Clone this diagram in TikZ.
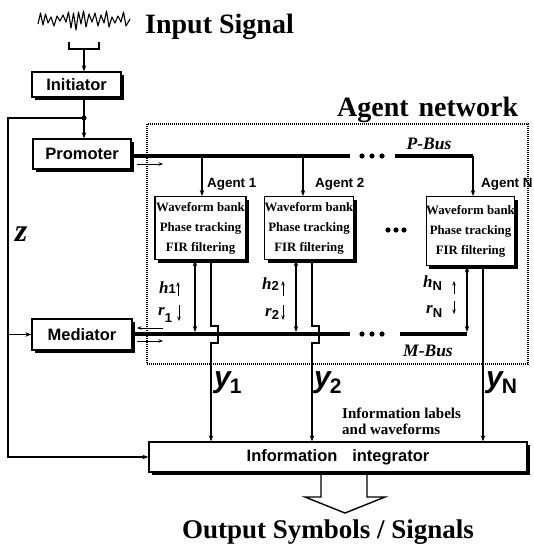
\documentclass[tikz,border=0pt]{standalone}
\usepackage{fontspec}
\setmainfont{Liberation Serif}
\setsansfont{Liberation Sans}
\usetikzlibrary{arrows.meta,shadows}
\begin{document}
\begin{tikzpicture}[x=1pt,y=-1pt,
  >={Stealth[length=6pt,width=4.5pt]},
  wire/.style={line width=1.1pt},
  smallarr/.style={line width=0.9pt,-{Stealth[length=4.5pt,width=3.5pt]}},
  bus/.style={line width=3.8pt},
  shbox/.style={draw,line width=1.3pt,fill=white,inner sep=0pt,
     drop shadow={shadow xshift=3pt,shadow yshift=-3pt,fill=black,opacity=1}},
  sanslbl/.style={font=\sffamily\bfseries\fontsize{16.5}{18}\selectfont},
  agentlbl/.style={font=\sffamily\bfseries\fontsize{13.4}{15}\selectfont},
  agenttxt/.style={font=\rmfamily\bfseries\fontsize{12.8}{20}\selectfont,align=center},
  bigtitle/.style={font=\rmfamily\bfseries\fontsize{28}{30}\selectfont,inner sep=0pt},
  buslbl/.style={font=\rmfamily\bfseries\itshape\fontsize{17.5}{18}\selectfont,inner sep=0pt},
  smalltxt/.style={font=\rmfamily\bfseries\fontsize{15}{15.5}\selectfont,align=left,inner sep=0pt},
  hrlbl/.style={inner sep=0pt,anchor=base west},
  ylbl/.style={inner sep=0pt,anchor=base west},
]
\newcommand{\hrf}{\rmfamily\bfseries\itshape\fontsize{17}{17}\selectfont}
\newcommand{\hrsub}{\sffamily\bfseries\upshape\fontsize{13}{13}\selectfont}
\newcommand{\yf}{\sffamily\bfseries\itshape\fontsize{30}{30}\selectfont}
\newcommand{\ysubf}{\sffamily\bfseries\upshape\fontsize{21}{21}\selectfont}
\useasboundingbox (0,0) rectangle (533,546);

% input waveform
\draw[line width=1.1pt,line join=round] plot coordinates {(38,24) (40.5,13) (43,25) (45.5,14) (48,23) (51,17) (54,26) (57,16) (60,21) (63,15) (66,22) (68.5,12) (71,28) (73.5,13) (76,30) (78.5,12) (81,24) (83.5,11) (86,27) (89,14) (92,22) (95,13) (98,26) (101,15) (104,23) (106.5,11) (109,27) (112,17) (115,23) (118,16) (121,22) (123.5,12) (126,26) (130,19)};
\node[bigtitle,anchor=base west] (title) at (145,33) {Input Signal};
\draw[wire] (69,42) -- (69,49) -- (99,49) -- (99,42);
\coordinate (br) at (84,49);

% boxes
\node[shbox,sanslbl,minimum width=89,minimum height=25] (init) at (76.5,84.5) {Initiator};
\node[shbox,sanslbl,minimum width=98,minimum height=30] (prom) at (82,154) {Promoter};
\node[shbox,sanslbl,minimum width=100,minimum height=31] (med) at (82,334.5) {Mediator};
\node[shbox,sanslbl,minimum width=378,minimum height=30] (integ) at (338,457) {Information\hspace{0.9em}integrator};

% agent network frame
\draw[line width=1.3pt,dash pattern=on 1pt off 1pt] (147,124) rectangle (528,364);
\node[bigtitle,anchor=base west] (nettitle) at (337,116) {Agent\hspace{0.35em}network};

\node[shbox,agenttxt,anchor=north,minimum width=91,minimum height=63] (a1) at (200.5,196) {Waveform bank\\Phase tracking\\FIR filtering};
\node[shbox,agenttxt,anchor=north,minimum width=89,minimum height=63] (a2) at (309,196) {Waveform bank\\Phase tracking\\FIR filtering};
\node[shbox,agenttxt,anchor=north,minimum width=88,minimum height=69] (aN) at (470.5,196) {Waveform bank\\Phase tracking\\FIR filtering};

% input chain
\coordinate (dot) at (84,118);
\draw[wire,->] (br) -- (br |- init.north);
\draw[wire,->] (br |- init.south) -- (br |- prom.north);
\fill (dot) circle (2.6);
\coordinate (L1) at (8,118);
\coordinate (L2) at (8,457);
\coordinate (Lm) at (8,334.5);
\draw[wire,->] (dot) -- (L1) -- (L2) -- (integ.west);
\draw[wire,->] (Lm) -- (med.west);
\node[inner sep=0pt,font=\rmfamily\bfseries\itshape\fontsize{32}{32}\selectfont] (z) at (21,234) {z};

% P-bus
\draw[bus] (131,156) -- (350,156);
\draw[bus] (395,156) -- (473,156);
\foreach \xx in {362,372,382} \fill (\xx,156) circle (2.6);
\node[buslbl,anchor=base] (pbus) at (429,149) {P-Bus};
\draw[wire,->] (202,156) -- (a1.north -| 202,0);
\draw[wire,->] (303,156) -- (a2.north -| 303,0);
\draw[wire,->] (473,156) -- (aN.north -| 473,0);
\node[agentlbl,anchor=west,inner sep=0pt] (ag1) at (207,184) {Agent 1};
\node[agentlbl,anchor=west,inner sep=0pt] (ag2) at (315,184) {Agent 2};
\node[agentlbl,anchor=west,inner sep=0pt] (agN) at (481,184) {Agent N};
\foreach \xx in {388,396,404} \fill (\xx,230) circle (2.6);

% M-bus
\draw[bus] (132,334) -- (350,334);
\draw[bus] (400,334) -- (467,334);
\foreach \xx in {362,372,382} \fill (\xx,334) circle (2.6);
\node[buslbl,anchor=base] (mbus) at (428,356) {M-Bus};

% border arrows
\draw[smallarr] (137,164) -- (163,164);
\draw[smallarr] (163,328) -- (137,328);
\draw[smallarr] (137,341) -- (163,341);

% h / r exchange
\draw[wire,<->] (a1.south -| 195,0) -- (195,332);
\draw[wire,<->] (a2.south -| 296,0) -- (296,332);
\draw[wire,<->] (aN.south -| 467,0) -- (467,332);
\node[hrlbl] (h1) at (159,293) {\hrf h\hrsub 1};
\node[hrlbl] (r1) at (158,315) {\hrf r\raisebox{-7pt}{\hrsub 1}};
\node[hrlbl] (h2) at (262,289) {\hrf h\raisebox{-1pt}{\hrsub 2}};
\node[hrlbl] (r2) at (265,316) {\hrf r\raisebox{-3pt}{\hrsub 2}};
\node[hrlbl] (hN) at (423,287) {\hrf h\raisebox{-3pt}{\hrsub N}};
\node[hrlbl] (rN) at (426,313) {\hrf r\raisebox{-4pt}{\hrsub N}};
\draw[smallarr] (178,296) -- (178,282);
\draw[smallarr] (179,305) -- (179,321);
\draw[smallarr] (283,296) -- (283,281);
\draw[smallarr] (283,305) -- (283,320);
\draw[smallarr] (454,294) -- (454,281);
\draw[smallarr] (454,301) -- (454,314);

% outputs y
\draw[wire,->] (a1.south -| 211,0) -- (211,326) -- (218,326) -- (218,343) -- (211,343) -- (integ.north -| 211,0);
\draw[wire,->] (a2.south -| 312,0) -- (312,326) -- (319,326) -- (319,343) -- (312,343) -- (integ.north -| 312,0);
\draw[wire,->] (aN.south -| 483,0) -- (integ.north -| 483,0);
\node[ylbl] (y1) at (214,387) {\yf y\kern-1pt\raisebox{-6pt}{\ysubf 1}};
\node[ylbl] (y2) at (314,387) {\yf y\kern-1pt\raisebox{-6pt}{\ysubf 2}};
\node[ylbl] (yN) at (486,387) {\yf y\kern-1pt\raisebox{-6pt}{\ysubf N}};
\node[smalltxt,anchor=north west] (info) at (342,408) {Information labels\\and waveforms};

% output arrow
\draw[line width=1.4pt,line join=miter] (321,475) -- (321,497) -- (305,497) -- (345,513) -- (385,497) -- (367,497) -- (367,475);
\node[font=\rmfamily\bfseries\fontsize{27}{29}\selectfont,inner sep=0pt,anchor=base] (out) at (328,538) {Output Symbols / Signals};
\end{tikzpicture}
\end{document}
